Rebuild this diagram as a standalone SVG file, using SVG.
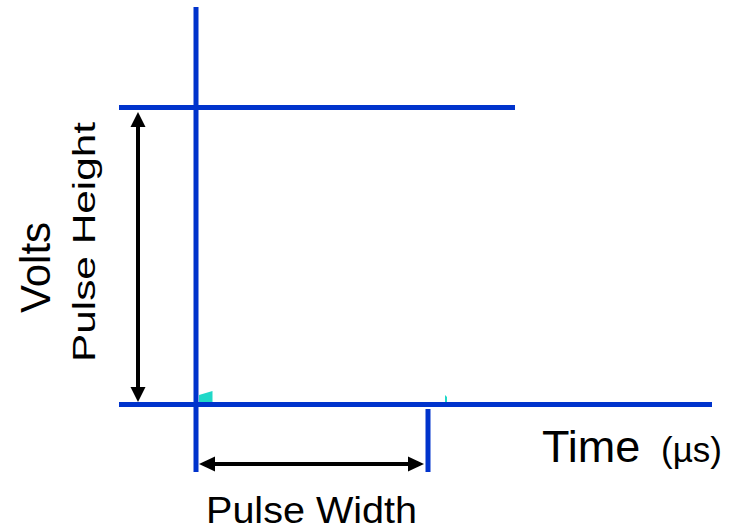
<svg xmlns="http://www.w3.org/2000/svg" width="732" height="532" viewBox="0 0 732 532">
  <style>
    .axis { stroke: #0033cc; stroke-width: 5; fill: none; }
    .dim { stroke: #000; stroke-width: 4; fill: none; }
    .head { fill: #000; }
    .lbl { font-family: "Liberation Sans", Arial, sans-serif; fill: #000; }
    .tick { fill: #20d8c8; }
  </style>

  <!-- pulse frame: axes, pulse top and trailing edge -->
  <g id="connectors">
    <line class="axis" x1="196" y1="7" x2="196" y2="472"/>
    <line class="axis" x1="119" y1="107.5" x2="515" y2="107.5"/>
    <line class="axis" x1="119" y1="404.5" x2="712" y2="404.5"/>
    <line class="axis" x1="428" y1="409" x2="428" y2="472"/>

    <!-- pulse height dimension -->
    <line class="dim" x1="138" y1="124" x2="138" y2="389"/>
    <polygon class="head" points="138,112 130.5,127 145.5,127"/>
    <polygon class="head" points="138,402 130.5,387 145.5,387"/>

    <!-- pulse width dimension -->
    <line class="dim" x1="212" y1="464" x2="411" y2="464"/>
    <polygon class="head" points="199,464 215,456.5 215,471.5"/>
    <polygon class="head" points="424,464 408,456.5 408,471.5"/>
  </g>

  <!-- small corner marks on the baseline -->
  <g id="marks">
    <polygon class="tick" points="199,395 212.5,391 212.5,402 199,402"/>
    <polygon class="tick" points="445,395 447,397 447,402 445,402"/>
  </g>

  <g id="label-volts">
    <text class="lbl" font-size="42" transform="translate(50,313) rotate(-90)">Volts</text>
  </g>
  <g id="label-pulse-height">
    <text class="lbl" font-size="32" transform="translate(95,362) rotate(-90)" textLength="240" lengthAdjust="spacingAndGlyphs">Pulse Height</text>
  </g>
  <g id="label-pulse-width">
    <text class="lbl" font-size="36" x="206" y="523" textLength="211" lengthAdjust="spacingAndGlyphs">Pulse Width</text>
  </g>
  <g id="label-time">
    <text class="lbl" x="542" y="462"><tspan font-size="45">Time</tspan><tspan font-size="35" x="661">(µs)</tspan></text>
  </g>
</svg>
